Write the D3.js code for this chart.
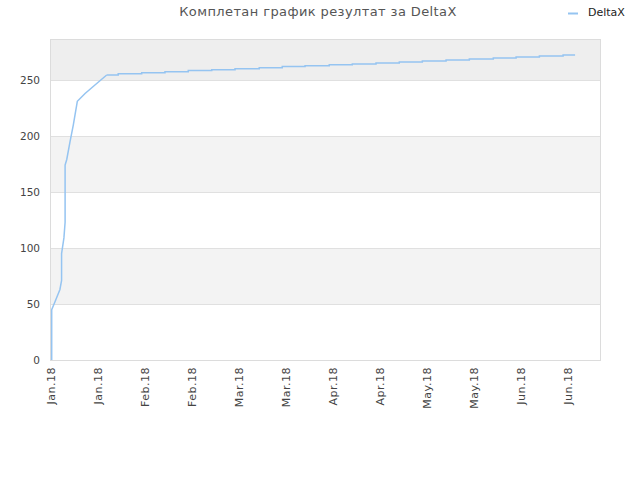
<html>
<head>
<script src='https://d3js.org/d3.v7.min.js'></script>
<style>
body { margin: 0; background: #fff; }
.axis text { font-family: 'DejaVu Sans', sans-serif; font-size: 11px; fill: #444; }
.xaxis text { letter-spacing: 0.5px; }
.yaxis text { font-size: 10.5px; }
.line { fill: none; stroke: #95c4f1; stroke-width: 1.5px; }
.grid { stroke: #e0e0e0; stroke-width: 1px; }
</style>
</head>
<body>
<svg id="chart" width=640 height=480></svg>
<script>
// x is in observation steps (two steps per tick), y is the result
var tickLabels = ['Jan.18', 'Jan.18', 'Feb.18', 'Feb.18', 'Mar.18', 'Mar.18',
                  'Apr.18', 'Apr.18', 'May.18', 'May.18', 'Jun.18', 'Jun.18'];
var tickSteps = [0, 2, 4, 6, 8, 10, 12, 14, 16, 18, 20, 22];
var yTicks = [0, 50, 100, 150, 200, 250];

// early climb (straight segments)
var riseX = [0.03, 0.03, 0.17, 0.38, 0.45, 0.45, 0.55, 0.6, 0.6, 0.67, 0.81, 0.95, 1.12, 1.45, 1.87, 2.37];
var riseY = [0, 45, 52, 63, 71, 95, 109, 123, 174, 179, 195, 210, 231, 238, 245.5, 254.5];
// later weekly steps
var stepX = [2.37, 2.86, 3.86, 4.85, 5.84, 6.84, 7.83, 8.86, 9.84, 10.81, 11.84, 12.82,
             13.83, 14.82, 15.8, 16.81, 17.8, 18.82, 19.79, 20.78, 21.79, 22.3];
var stepY = [254.5, 255.5, 256.5, 257.4, 258.5, 259.2, 260, 261, 262, 262.8, 263.7, 264.3,
             265.2, 266, 267, 267.9, 268.8, 269.6, 270.5, 271.4, 272.3, 272.3];

var pLeft = 51, pRight = 600, pTop = 40, pBottom = 360;
var chart = d3.select('#chart');
var x = d3.scaleLinear().domain([0, 23.36]).range([pLeft, pRight]);
var y = d3.scaleLinear().domain([0, 285.7]).range([pBottom, pTop]);

// background bands
var bands = [[50, 100, '#f3f3f3'], [150, 200, '#f3f3f3'], [250, 285.7, '#eeeeee']];
chart.selectAll('.band').data(bands).enter().append('rect')
    .attr('x', pLeft).attr('width', pRight - pLeft)
    .attr('y', function(d){ return y(d[1]); })
    .attr('height', function(d){ return y(d[0]) - y(d[1]); })
    .attr('fill', function(d){ return d[2]; });

// grid
chart.selectAll('.grid').data(yTicks.slice(1)).enter().append('line')
    .attr('class', 'grid')
    .attr('x1', pLeft).attr('x2', pRight)
    .attr('y1', function(d){ return Math.round(y(d)) + 0.5; })
    .attr('y2', function(d){ return Math.round(y(d)) + 0.5; });
chart.append('rect')
    .attr('x', pLeft - 0.5).attr('y', pTop - 0.5)
    .attr('width', pRight - pLeft + 1).attr('height', pBottom - pTop + 1)
    .attr('fill', 'none').attr('stroke', '#dcdcdc');

// axes
var yAxis = d3.axisLeft(y).tickValues(yTicks).tickSize(0).tickPadding(11);
chart.append('g').attr('class', 'axis yaxis').attr('transform', 'translate(' + pLeft + ',0)')
    .call(yAxis).call(function(g){ g.select('.domain').remove(); });

var xAxis = d3.axisBottom(x).tickValues(tickSteps).tickSize(0)
    .tickFormat(function(d, i){ return tickLabels[i]; });
chart.append('g').attr('class', 'axis xaxis').attr('transform', 'translate(0,' + pBottom + ')')
    .call(xAxis)
    .call(function(g){ g.select('.domain').remove(); })
    .selectAll('text')
    .attr('transform', 'rotate(-90)')
    .attr('text-anchor', 'end')
    .attr('x', -7).attr('y', 0).attr('dy', '0.35em');

// line
var rise = riseX.map(function(d, i){ return [d, riseY[i]]; });
var steps = stepX.map(function(d, i){ return [d, stepY[i]]; });
var line = d3.line().x(function(d){ return x(d[0]); }).y(function(d){ return y(d[1]); });
chart.append('path').datum(rise).attr('class', 'line').attr('d', line);
chart.append('path').datum(steps).attr('class', 'line').attr('d', line.curve(d3.curveStepAfter));

// title + legend
chart.append('text').attr('x', 318).attr('y', 16)
    .attr('text-anchor', 'middle')
    .style('font-family', "'DejaVu Sans', sans-serif").style('font-size', '13px')
    .style('letter-spacing', '0.4px')
    .attr('fill', '#555').text('Комплетан график резултат за DeltaX');
chart.append('line').attr('x1', 568).attr('x2', 578).attr('y1', 13.5).attr('y2', 13.5)
    .attr('stroke', '#95c4f1').attr('stroke-width', 2);
chart.append('text').attr('x', 588).attr('y', 16)
    .style('font-family', "'DejaVu Sans', sans-serif").style('font-size', '11px')
    .attr('fill', '#222').text('DeltaX');
</script>
</body>
</html>
